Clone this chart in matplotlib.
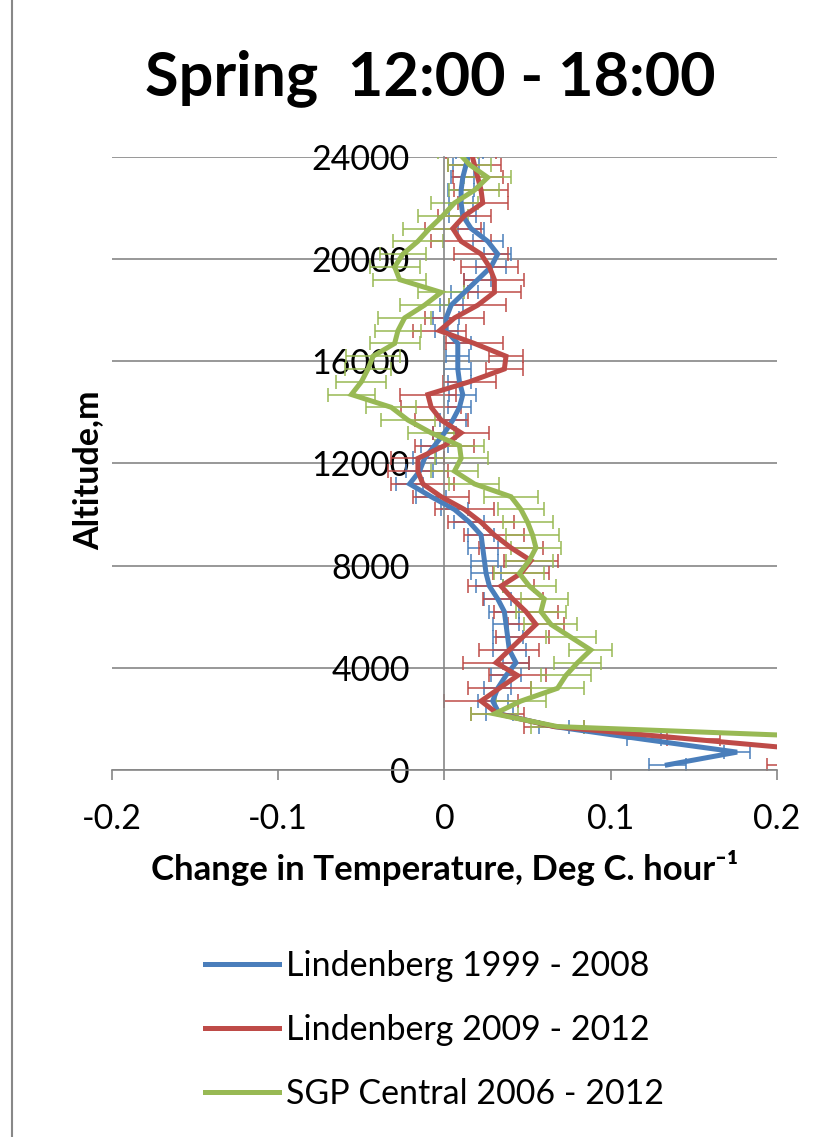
import matplotlib
matplotlib.use("Agg")
import matplotlib.pyplot as plt
from matplotlib.lines import Line2D

plt.rcParams["font.family"] = ["Lato", "DejaVu Sans"]

# Altitude levels (m) and temperature change (deg C / hour) per series
altitude = [200, 700, 1200, 1700, 2200, 2700, 3200, 3700, 4200, 4700,
            5200, 5700, 6200, 6700, 7200, 7700, 8200, 8700, 9200, 9700,
            10200, 10700, 11200, 11700, 12200, 12700, 13200, 13700, 14200, 14700,
            15200, 15700, 16200, 16700, 17200, 17700, 18200, 18700, 19200, 19700,
            20200, 20700, 21200, 21700, 22200, 22700, 23200, 23700, 24200]

lind_99_08 = [0.134, 0.176, 0.120, 0.066, 0.033, 0.029, 0.032, 0.037, 0.043, 0.039,
              0.038, 0.037, 0.036, 0.032, 0.027, 0.025, 0.024, 0.023, 0.022, 0.015,
              0.006, -0.008, -0.021, -0.015, -0.012, -0.006, 0.000, 0.005, 0.009, 0.011,
              0.009, 0.008, 0.008, 0.008, 0.001, 0.001, 0.004, 0.012, 0.020, 0.028,
              0.032, 0.026, 0.016, 0.011, 0.010, 0.010, 0.011, 0.013, 0.015]
lind_99_08_err = [0.011, 0.008, 0.010, 0.009, 0.008, 0.009, 0.008, 0.009, 0.008, 0.010,
                  0.009, 0.008, 0.009, 0.008, 0.008, 0.009, 0.008, 0.009, 0.008, 0.009,
                  0.008, 0.009, 0.008, 0.008, 0.007, 0.008, 0.007, 0.008, 0.007, 0.008,
                  0.007, 0.008, 0.007, 0.008, 0.007, 0.008, 0.007, 0.008, 0.008, 0.009,
                  0.008, 0.009, 0.008, 0.008, 0.007, 0.008, 0.007, 0.008, 0.008]

lind_09_12 = [0.260, 0.235, 0.150, 0.066, 0.032, 0.022, 0.033, 0.044, 0.031, 0.039,
              0.047, 0.055, 0.049, 0.041, 0.034, 0.046, 0.052, 0.040, 0.030, 0.022,
              0.012, -0.002, -0.013, -0.016, -0.016, 0.000, 0.010, -0.002, -0.008, -0.010,
              0.015, 0.036, 0.037, 0.018, -0.003, 0.006, 0.020, 0.030, 0.030, 0.027,
              0.022, 0.010, 0.005, 0.012, 0.023, 0.022, 0.020, 0.018, 0.016]
lind_09_12_err = [0.066, 0.030, 0.016, 0.018, 0.016, 0.022, 0.019, 0.017, 0.020, 0.018,
                  0.016, 0.017, 0.019, 0.018, 0.020, 0.017, 0.016, 0.019, 0.018, 0.020,
                  0.018, 0.017, 0.019, 0.018, 0.016, 0.018, 0.017, 0.016, 0.018, 0.017,
                  0.016, 0.011, 0.010, 0.017, 0.016, 0.018, 0.017, 0.016, 0.018, 0.017,
                  0.016, 0.018, 0.017, 0.016, 0.015, 0.016, 0.015, 0.016, 0.015]

sgp_06_12 = [0.400, 0.340, 0.270, 0.068, 0.030, 0.046, 0.068, 0.073, 0.080, 0.088,
             0.076, 0.064, 0.058, 0.060, 0.051, 0.045, 0.051, 0.055, 0.053, 0.050,
             0.046, 0.040, 0.018, 0.006, 0.010, 0.009, -0.008, -0.022, -0.032, -0.056,
             -0.050, -0.046, -0.043, -0.030, -0.028, -0.024, -0.012, -0.002, -0.027, -0.030,
             -0.025, -0.016, -0.009, -0.001, 0.006, 0.018, 0.026, 0.015, 0.008]
sgp_06_12_err = [0.020, 0.018, 0.016, 0.016, 0.014, 0.015, 0.016, 0.015, 0.014, 0.013,
                 0.015, 0.016, 0.015, 0.014, 0.016, 0.015, 0.014, 0.015, 0.016, 0.015,
                 0.014, 0.016, 0.015, 0.014, 0.016, 0.015, 0.014, 0.016, 0.015, 0.014,
                 0.015, 0.014, 0.016, 0.015, 0.014, 0.016, 0.015, 0.014, 0.016, 0.015,
                 0.014, 0.015, 0.016, 0.015, 0.014, 0.015, 0.014, 0.013, 0.012]

series = [
    ("Lindenberg 1999 - 2008", lind_99_08, lind_99_08_err, "#4A7EBB"),
    ("Lindenberg 2009 - 2012", lind_09_12, lind_09_12_err, "#BE4B48"),
    ("SGP Central 2006 - 2012", sgp_06_12, sgp_06_12_err, "#98B954"),
]

W, H = 829, 1137
fig = plt.figure(figsize=(W / 100, H / 100), dpi=100)
ax = fig.add_axes([112 / W, 1 - 770 / H, (777 - 112) / W, (770 - 157) / H])

handles = []
for name, vals, errs, col in series:
    ax.errorbar(vals, altitude, xerr=errs, fmt="none", ecolor=col,
                elinewidth=1.1, capsize=5, capthick=1.1, zorder=2)
    ln, = ax.plot(vals, altitude, color=col, linewidth=3.6, zorder=3,
                  solid_joinstyle="miter", label=name)
    handles.append(ln)

ax.set_xlim(-0.2, 0.2)
ax.set_ylim(0, 24000)
ax.set_xticks([-0.2, -0.1, 0, 0.1, 0.2])
ax.set_xticklabels(["-0.2", "-0.1", "0", "0.1", "0.2"])
ax.set_yticks(range(0, 24001, 4000))
ax.yaxis.grid(True, color="#868686", linewidth=1.2)
ax.set_axisbelow(True)

for s in ["top", "right"]:
    ax.spines[s].set_visible(False)
ax.spines["left"].set_position(("data", 0))
ax.spines["left"].set_color("#868686")
ax.spines["bottom"].set_color("#868686")
ax.spines["left"].set_linewidth(1.2)
ax.spines["bottom"].set_linewidth(1.2)
ax.tick_params(axis="y", length=0, pad=25, labelsize=24.5)
ax.tick_params(axis="x", length=7, width=1.2, color="#868686", pad=17, labelsize=24.5)

fig.text(430 / W, 1 - 78 / H, "Spring  12:00 - 18:00", ha="center", va="center",
         fontsize=44, fontweight="bold")
fig.text(445 / W, 1 - 868 / H, "Change in Temperature, Deg C. hour\u207b\u00b9",
         ha="center", va="center", fontsize=25, fontweight="bold")
fig.text(88 / W, 1 - 470 / H, "Altitude,m", ha="center", va="center",
         rotation=90, fontsize=24.5, fontweight="bold")

fig.legend(handles=handles, loc="center left", bbox_to_anchor=(191 / W, 1 - 1030 / H),
           frameon=False, fontsize=24.5, handlelength=2.2, handletextpad=0.2,
           labelspacing=0.95, borderaxespad=0)

fig.add_artist(Line2D([12 / W, 12 / W], [0, 1], color="#888888", linewidth=1.5))

fig.savefig("out.png", dpi=100)
